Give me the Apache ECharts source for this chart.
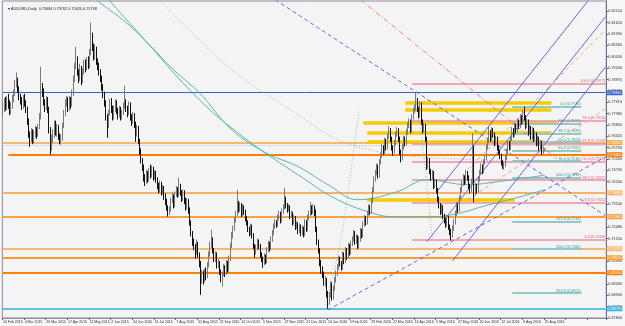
<!DOCTYPE html>
<html><head><meta charset="utf-8">
<script src="https://cdn.jsdelivr.net/npm/echarts@6/dist/echarts.min.js"></script>
<style>html,body{margin:0;padding:0;background:#f7f7f7}#c{width:625px;height:326px}</style>
</head><body><div id="c"></div>
<script>
// ---------- DATA ----------
const titleText = '\u25BE AUDUSD,Daily  0.75684 0.75762 0.75620 0.75738';
const tickDates = ['10 Feb 2015','4 Mar 2015','26 Mar 2015','17 Apr 2015','11 May 2015','2 Jun 2015','24 Jun 2015','16 Jul 2015','7 Aug 2015','31 Aug 2015','22 Sep 2015','14 Oct 2015','5 Nov 2015','27 Nov 2015','21 Dec 2015','14 Jan 2016','5 Feb 2016','29 Feb 2016','22 Mar 2016','13 Apr 2016','5 May 2016','27 May 2016','20 Jun 2016','12 Jul 2016','3 Aug 2016','25 Aug 2016'];
const barsPerTick = 16;
const totalSlots = 446;
// daily candles [open, close, low, high] in pips (x 0.0001)
const ohlcPips = [
[7750,7765,7725,7790],[7765,7790,7745,7810],[7790,7770,7750,7815],[7770,7800,7755,7820],[7800,7785,7760,7830],[7785,7750,7730,7800],[7750,7775,7735,7790],[7775,7800,7760,7825],
[7800,7835,7790,7850],[7835,7880,7820,7895],[7880,7890,7860,7930],[7890,7850,7835,7905],[7850,7815,7800,7865],[7815,7800,7780,7830],[7800,7775,7755,7815],[7775,7810,7760,7825],
[7810,7790,7770,7830],[7790,7760,7740,7800],[7760,7700,7685,7770],[7700,7640,7625,7715],[7640,7620,7583,7655],[7620,7650,7605,7670],[7650,7610,7595,7665],[7610,7640,7600,7660],
[7640,7660,7625,7680],[7660,7640,7620,7675],[7640,7675,7630,7690],[7675,7720,7665,7740],[7720,7860,7710,7956],[7860,7840,7815,7880],[7840,7790,7775,7855],[7790,7770,7745,7805],
[7770,7800,7755,7820],[7800,7760,7740,7815],[7760,7660,7645,7770],[7660,7580,7546,7675],[7580,7620,7565,7640],[7620,7640,7600,7665],[7640,7690,7625,7705],[7690,7650,7635,7705],
[7650,7670,7630,7690],[7670,7630,7615,7685],[7630,7610,7595,7645],[7610,7620,7592,7640],[7620,7680,7610,7695],[7680,7740,7670,7755],[7740,7790,7725,7805],[7790,7800,7770,7820],
[7800,7760,7745,7815],[7760,7800,7750,7820],[7800,7780,7760,7815],[7780,7830,7770,7850],[7830,7900,7820,7915],[7900,7960,7885,7975],[7960,7990,7945,8050],[7990,7930,7915,8005],
[7930,7900,7880,7945],[7900,7950,7890,7970],[7950,7890,7870,7960],[7890,7930,7880,7950],[7930,7970,7920,7990],[7970,7950,7930,7990],[7950,7985,7940,8000],[7985,7960,7945,8005],
[7960,8020,7950,8040],[8020,8100,8010,8162],[8100,8050,8030,8115],[8050,8000,7985,8065],[8000,8040,7990,8060],[8040,7980,7965,8050],[7980,7960,7940,7995],[7960,7930,7915,7975],
[7930,7900,7885,7945],[7900,7860,7845,7915],[7860,7830,7810,7875],[7830,7790,7770,7840],[7790,7720,7705,7800],[7720,7680,7625,7735],[7680,7740,7670,7755],[7740,7790,7730,7805],
[7790,7760,7740,7810],[7760,7720,7705,7775],[7720,7760,7710,7775],[7760,7790,7745,7805],[7790,7750,7735,7800],[7750,7730,7710,7765],[7730,7760,7720,7775],[7760,7720,7705,7770],
[7720,7740,7710,7755],[7740,7770,7730,7790],[7770,7790,7760,7868],[7790,7760,7745,7805],[7760,7740,7720,7775],[7740,7780,7730,7795],[7780,7720,7705,7790],[7720,7700,7680,7735],
[7700,7730,7690,7745],[7730,7690,7670,7740],[7690,7640,7606,7700],[7640,7670,7630,7685],[7670,7610,7595,7680],[7610,7560,7545,7620],[7560,7520,7505,7575],[7520,7490,7470,7530],
[7490,7440,7420,7500],[7440,7420,7400,7455],[7420,7460,7410,7475],[7460,7430,7415,7470],[7430,7470,7420,7485],[7470,7450,7435,7500],[7450,7480,7440,7495],[7480,7440,7425,7490],
[7440,7460,7430,7475],[7460,7430,7415,7470],[7430,7400,7385,7440],[7400,7380,7365,7415],[7380,7410,7370,7425],[7410,7370,7355,7420],[7370,7390,7360,7405],[7390,7350,7335,7400],
[7350,7330,7310,7365],[7330,7300,7285,7340],[7300,7280,7257,7310],[7280,7290,7265,7305],[7290,7330,7280,7345],[7330,7350,7320,7370],[7350,7310,7295,7360],[7310,7360,7300,7375],
[7360,7380,7350,7400],[7380,7360,7345,7395],[7360,7400,7350,7438],[7400,7370,7355,7410],[7370,7340,7325,7380],[7340,7370,7330,7385],[7370,7330,7315,7380],[7330,7300,7285,7345],
[7300,7330,7290,7345],[7330,7290,7270,7340],[7290,7230,7215,7300],[7230,7180,7165,7240],[7180,7140,7120,7190],[7140,7120,7100,7155],[7120,7090,7060,7130],[7090,7130,7080,7150],
[7130,7080,7065,7140],[7080,7040,7020,7090],[7040,6960,6892,7050],[6960,6990,6945,7010],[6990,6960,6940,7005],[6960,7000,6950,7015],[7000,6980,6960,7020],[6980,7030,6970,7045],
[7030,7080,7020,7095],[7080,7120,7070,7140],[7120,7150,7110,7196],[7150,7100,7085,7160],[7100,7060,7045,7110],[7060,7080,7045,7095],[7080,7030,7015,7090],[7030,7040,7015,7060],
[7040,7000,6985,7050],[7000,6970,6950,7010],[6970,6990,6930,7000],[6990,7020,6980,7035],[7020,6990,6975,7030],[6990,7040,6985,7055],[7040,7010,6995,7050],[7010,7060,7000,7075],
[7060,7120,7050,7135],[7120,7170,7110,7185],[7170,7200,7155,7215],[7200,7240,7190,7255],[7240,7270,7230,7285],[7270,7320,7260,7382],[7320,7290,7275,7330],[7290,7310,7280,7325],
[7310,7270,7255,7320],[7270,7300,7260,7315],[7300,7280,7265,7310],[7280,7250,7235,7290],[7250,7230,7215,7260],[7230,7200,7185,7240],[7200,7180,7165,7210],[7180,7210,7170,7225],
[7210,7170,7155,7220],[7170,7120,7105,7180],[7120,7090,7065,7130],[7090,7110,7080,7125],[7110,7140,7100,7155],[7140,7120,7105,7150],[7120,7080,7065,7130],[7080,7060,7045,7090],
[7060,7040,7018,7070],[7040,7070,7030,7085],[7070,7050,7035,7080],[7050,7100,7040,7115],[7100,7130,7090,7145],[7130,7110,7095,7140],[7110,7150,7100,7165],[7150,7180,7140,7195],
[7180,7210,7170,7225],[7210,7230,7200,7245],[7230,7220,7205,7240],[7220,7250,7210,7265],[7250,7270,7240,7285],[7270,7240,7225,7280],[7240,7280,7230,7295],[7280,7300,7270,7315],
[7300,7340,7290,7392],[7340,7310,7295,7350],[7310,7290,7275,7320],[7290,7300,7280,7315],[7300,7260,7245,7310],[7260,7270,7250,7285],[7270,7230,7215,7280],[7230,7250,7220,7265],
[7250,7210,7195,7260],[7210,7220,7200,7235],[7220,7190,7175,7230],[7190,7210,7180,7225],[7210,7180,7165,7220],[7180,7200,7170,7215],[7200,7170,7160,7210],[7170,7230,7165,7245],
[7230,7200,7185,7240],[7200,7250,7190,7265],[7250,7270,7240,7285],[7270,7300,7260,7325],[7300,7280,7265,7310],[7280,7300,7270,7315],[7300,7280,7260,7310],[7280,7200,7185,7290],
[7200,7140,7125,7210],[7140,7100,7085,7150],[7100,7040,7025,7110],[7040,7010,6990,7055],[7010,6990,6970,7025],[6990,6950,6935,7000],[6950,6960,6930,6980],[6960,6900,6880,6970],
[6900,6860,6827,6910],[6860,6890,6845,6905],[6890,6940,6880,6955],[6940,6880,6865,6950],[6880,6920,6870,6935],[6920,6960,6910,6975],[6960,6990,6950,7005],[6990,7020,6980,7035],
[7020,7060,7010,7075],[7060,7040,7025,7070],[7040,7020,7005,7050],[7020,7080,7010,7095],[7080,7050,7035,7090],[7050,7100,7040,7115],[7100,7070,7055,7110],[7070,7120,7060,7135],
[7120,7090,7075,7130],[7090,7130,7080,7145],[7130,7150,7120,7165],[7150,7180,7140,7195],[7180,7140,7125,7190],[7140,7160,7130,7175],[7160,7120,7105,7170],[7120,7150,7110,7165],
[7150,7190,7140,7205],[7190,7170,7155,7200],[7170,7220,7160,7235],[7220,7250,7210,7265],[7250,7230,7215,7260],[7230,7270,7220,7285],[7270,7300,7260,7315],[7300,7280,7265,7310],
[7280,7330,7270,7345],[7330,7380,7320,7395],[7380,7430,7370,7445],[7430,7460,7420,7475],[7460,7490,7450,7505],[7490,7450,7435,7500],[7450,7510,7440,7525],[7510,7540,7500,7555],
[7540,7580,7530,7595],[7580,7560,7545,7590],[7560,7610,7550,7625],[7610,7580,7565,7620],[7580,7630,7570,7645],[7630,7660,7620,7680],[7660,7620,7605,7670],[7620,7580,7565,7630],
[7580,7560,7540,7590],[7560,7600,7550,7615],[7600,7640,7590,7655],[7640,7660,7630,7675],[7660,7620,7605,7670],[7620,7560,7545,7630],[7560,7530,7510,7570],[7530,7580,7520,7595],
[7580,7620,7570,7635],[7620,7600,7585,7630],[7600,7650,7590,7665],[7650,7680,7640,7695],[7680,7700,7670,7715],[7700,7660,7645,7710],[7660,7720,7650,7735],[7720,7750,7710,7765],
[7750,7760,7740,7780],[7760,7800,7750,7835],[7800,7760,7745,7810],[7760,7730,7715,7770],[7730,7780,7720,7795],[7780,7700,7685,7790],[7700,7660,7645,7710],[7660,7680,7650,7695],
[7680,7620,7605,7690],[7620,7490,7475,7630],[7490,7520,7480,7535],[7520,7470,7455,7530],[7470,7440,7425,7480],[7440,7460,7430,7475],[7460,7400,7385,7470],[7400,7420,7390,7435],
[7420,7380,7365,7430],[7380,7340,7325,7390],[7340,7310,7295,7350],[7310,7280,7265,7320],[7280,7300,7270,7315],[7300,7260,7245,7310],[7260,7240,7225,7270],[7240,7220,7205,7250],
[7220,7250,7210,7265],[7250,7210,7195,7260],[7210,7190,7170,7220],[7190,7170,7145,7200],[7170,7200,7160,7215],[7200,7230,7190,7245],[7230,7270,7220,7285],[7270,7310,7260,7325],
[7310,7290,7275,7320],[7290,7340,7280,7355],[7340,7380,7330,7395],[7380,7410,7370,7425],[7410,7440,7400,7455],[7440,7420,7405,7450],[7420,7460,7410,7475],[7460,7440,7425,7470],
[7440,7400,7385,7450],[7400,7380,7365,7410],[7380,7420,7370,7435],[7420,7580,7410,7647],[7580,7370,7324,7590],[7370,7400,7355,7415],[7400,7380,7365,7410],[7380,7430,7370,7445],
[7430,7460,7420,7475],[7460,7490,7450,7505],[7490,7470,7455,7500],[7470,7510,7460,7525],[7510,7530,7500,7545],[7530,7580,7520,7595],[7580,7610,7570,7625],[7610,7650,7600,7676],
[7650,7620,7605,7660],[7620,7660,7610,7675],[7660,7640,7625,7670],[7640,7600,7585,7650],[7600,7620,7590,7635],[7620,7580,7565,7630],[7580,7560,7545,7590],[7560,7540,7525,7570],
[7540,7510,7495,7550],[7510,7490,7480,7520],[7490,7500,7476,7515],[7500,7530,7490,7545],[7530,7560,7520,7575],[7560,7600,7550,7615],[7600,7580,7565,7610],[7580,7620,7570,7635],
[7620,7660,7610,7675],[7660,7640,7625,7670],[7640,7680,7630,7695],[7680,7660,7645,7690],[7660,7700,7650,7715],[7700,7680,7665,7710],[7680,7720,7670,7735],[7720,7700,7685,7730],
[7700,7740,7690,7755],[7740,7720,7705,7770],[7720,7680,7665,7730],[7680,7700,7670,7715],[7700,7650,7635,7710],[7650,7670,7640,7685],[7670,7630,7615,7680],[7630,7660,7620,7675],
[7660,7620,7605,7670],[7620,7640,7610,7655],[7640,7600,7585,7650],[7600,7620,7590,7635],[7620,7580,7565,7630],[7580,7600,7570,7615],[7600,7560,7545,7610],[7560,7568,7550,7580],
[7568,7574,7562,7576]
];
const lastClose = 0.75738;
// horizontal price lines (full width)
const hLevels = [0.7835, 0.7602, 0.7546, 0.7368, 0.7256, 0.7107, 0.7065, 0.6995, 0.6827];
const hStartBar = [0, 0, 4, 0, 0, 0, 0, 0, 0];
// yellow zones: price, start bar, end bar
const zonePrices = [0.7788, 0.7756, 0.7695, 0.7648, 0.7606, 0.7336];
const zoneStart  = [297, 297, 266, 269, 269, 269];
const zoneEnd    = [405, 405, 409, 405, 400, 378];
// Fibonacci (pink): 0% and 100% prices, bars
const fibPinkLow = 0.7149, fibPinkHigh = 0.7877, fibPinkFrom = 302, fibPinkTo = 445;
const fibPinkRatios = [0, 23.6, 38.2, 50, 61.8, 76.4, 100];
// Fibonacci (teal): 0% and 100% prices, bars
const fibTeal0 = 0.7770, fibTeal100 = 0.7438, fibTealFrom = 376, fibTealTo = 427;
const fibTealRatios = [0, 23.6, 38.2, 50, 61.8, 76.4, 100, 161.8, 200, 261.8];
// moving averages [bar, price]
const maFast = [[60,0.8330],[69,0.8269],[91,0.8162],[108,0.8059],[126,0.7942],[145,0.7835],[169,0.7662],[194,0.7555],[218,0.7490],[240,0.7406],[262,0.7336],[291,0.7373],[313,0.7429],[343,0.7406],[365,0.7420],[400,0.7450]];
const maSlow = [[70,0.8330],[78,0.8269],[100,0.8115],[145,0.7802],[183,0.7602],[218,0.7452],[247,0.7336],[277,0.7266],[291,0.7256],[315,0.7256],[365,0.7322],[400,0.7382]];
const maDotted = [[105,0.8330],[115,0.8269],[169,0.7942],[218,0.7732],[247,0.7616],[277,0.7560],[306,0.7536],[350,0.7522],[379,0.7513]];
const arcA = [[305,0.7835],[311,0.7522],[317,0.7149]];
const arcB = [[238,0.6846],[248,0.7102],[256,0.7429],[263,0.7756]];
// trend lines [[bar, price],[bar, price]]
const forkLines = [[[321,0.7378],[445,0.8367]], [[313,0.7140],[445,0.8190]], [[332,0.7051],[445,0.7956]]];
const blueDashLines = [[[201,0.8269],[445,0.7261]], [[240,0.6822],[445,0.7536]]];
const redDashDot = [[[264,0.8269],[409,0.7527]]];
const salmonDash = [[[343,0.7476],[445,0.8129]], [[343,0.7336],[445,0.7760]]];

// ---------- BUILD ----------
const candles = ohlcPips.map(r => r.map(v => v / 10000));
const cats = Array.from({length: totalSlots}, (_, k) => String(k));
const FS = 3.8, FF = 'Liberation Sans';

const hStyle = [
  {c:'#3a5fcd', w:1}, {c:'#f3a93c', w:1.5}, {c:'#ff8000', w:2}, {c:'#f7b266', w:2},
  {c:'#f5a244', w:2}, {c:'#f7b870', w:2}, {c:'#ff9a26', w:2}, {c:'#ff7f00', w:2}, {c:'#2bb3e3', w:1.5}
];
const ml = [];
hLevels.forEach((p, k) => {
  const s = hStyle[k];
  ml.push([{coord:[hStartBar[k], p], lineStyle:{color:s.c, width:s.w, type:'solid'},
    label:{show:true, position:'end', formatter:p.toFixed(5), backgroundColor:s.c, color:'#fff', fontSize:FS, fontFamily:FF, padding:[0.5,1], distance:1}},
    {coord:[totalSlots-1, p]}]);
});
// descriptions of blue / cyan lines
[[0, '#3a5fcd'], [8, '#2bb3e3']].forEach(([k, c]) => {
  ml.push([{coord:[280, hLevels[k]], lineStyle:{opacity:0},
    label:{show:true, position:'insideStartTop', formatter:'[##] (' + hLevels[k].toFixed(5) + ')', color:c, fontSize:FS, fontFamily:FF, distance:1}},
    {coord:[totalSlots-1, hLevels[k]]}]);
});
// light grey line
ml.push([{coord:[0, 0.7588], lineStyle:{color:'#dcdcdc', width:1, type:'solid'}, label:{show:false}}, {coord:[totalSlots-1, 0.7588]}]);
// yellow zones
zonePrices.forEach((p, k) => {
  ml.push([{coord:[zoneStart[k], p], lineStyle:{color:'#f6cb00', width:3.5, type:'solid'}, label:{show:false}}, {coord:[zoneEnd[k], p]}]);
});
// pink fib
fibPinkRatios.forEach(r => {
  const p = fibPinkLow + r / 100 * (fibPinkHigh - fibPinkLow);
  ml.push([{coord:[fibPinkFrom, p], lineStyle:{color:'#ef8fa2', width:1.5, type:'solid'},
    label:{show:true, position:'insideEndTop', formatter: r.toFixed(1) + ' (' + p.toFixed(4) + ')', color:'#e25a78', fontSize:FS, fontFamily:FF, distance:0.5}},
    {coord:[fibPinkTo, p]}]);
});
// teal fib
fibTealRatios.forEach(r => {
  const p = fibTeal0 - r / 100 * (fibTeal0 - fibTeal100);
  ml.push([{coord:[fibTealFrom, p], lineStyle:{color:'#93c9c4', width:2, type:'solid'},
    label:{show:true, position:'insideEndTop', formatter: r.toFixed(1) + ' (' + p.toFixed(4) + ')', color:'#2f9b92', fontSize:FS, fontFamily:FF, distance:0.5}},
    {coord:[fibTealTo, p]}]);
});
// current price label
ml.push({yAxis: lastClose, lineStyle:{opacity:0},
  label:{show:true, position:'end', formatter:lastClose.toFixed(5), backgroundColor:'#0b1f6e', color:'#fff', fontSize:FS, fontFamily:FF, padding:[0.5,1], distance:1}});

function lineSeries(data, color, width, type, smooth) {
  return {type:'line', data, symbol:'none', smooth: smooth || false, silent:true, clip:true,
    lineStyle:{color, width, type}, z:3, animation:false};
}
const series = [
  lineSeries(maFast, '#5bb5ad', 1, 'solid', 0.4),
  lineSeries(maSlow, '#5bb5ad', 1, 'solid', 0.4),
  lineSeries(maDotted, '#c9a394', 1, [1,2], 0.4),
  lineSeries(arcA, '#7cc8c2', 1, [1,2], 0.4),
  lineSeries(arcB, '#7cc8c2', 1, [1,2], 0.4),
];
forkLines.forEach(l => series.push(lineSeries(l, '#6b64dc', 1, 'solid')));
blueDashLines.forEach(l => series.push(lineSeries(l, '#6b64dc', 1, [4,3])));
redDashDot.forEach(l => series.push(lineSeries(l, '#f07d7d', 1, [5,2,1,2])));
salmonDash.forEach(l => series.push(lineSeries(l, '#f4a486', 1, [4,3])));
series.push({
  type:'candlestick', data: candles, barWidth:1, z:5, animation:false,
  itemStyle:{color:'#9e9e9e', color0:'#111111', borderColor:'#7a7a7a', borderColor0:'#111111', borderWidth:1},
  markLine:{symbol:['none','none'], silent:true, animation:false, data: ml, z:2}
});

const chart = echarts.init(document.getElementById('c'), null, {renderer:'canvas'});
chart.setOption({
  animation:false,
  backgroundColor:'#f7f7f7',
  title:{text:titleText, left:3, top:2, textStyle:{fontSize:3.8, fontWeight:'normal', color:'#222', fontFamily:FF}},
  grid:{left:2, right:15, top:1, bottom:8, show:true, borderColor:'#8a8aa0', borderWidth:1, backgroundColor:'#f4f4f4'},
  xAxis:{type:'category', data:cats, boundaryGap:true,
    axisLine:{show:true, lineStyle:{color:'#8a8aa0'}},
    axisTick:{show:true, interval: barsPerTick - 1, length:2, lineStyle:{color:'#666'}},
    axisLabel:{interval: barsPerTick - 1, align:'left', margin:2, fontSize:3.5, color:'#333', fontFamily:FF,
      formatter:(v, i) => (i % barsPerTick === 0 && tickDates[i / barsPerTick]) ? tickDates[i / barsPerTick] : ''},
    splitLine:{show:false}},
  yAxis:{type:'value', position:'right', min:0.6784, max:0.8263, interval:0.0053, scale:true,
    axisLine:{show:true, lineStyle:{color:'#6c6c90'}},
    axisTick:{show:true, length:2, lineStyle:{color:'#666'}},
    axisLabel:{margin:2, fontSize:FS, color:'#333', fontFamily:FF, showMaxLabel:false, formatter:v => v.toFixed(5)},
    splitLine:{show:false}},
  series
});
</script>
</body></html>
